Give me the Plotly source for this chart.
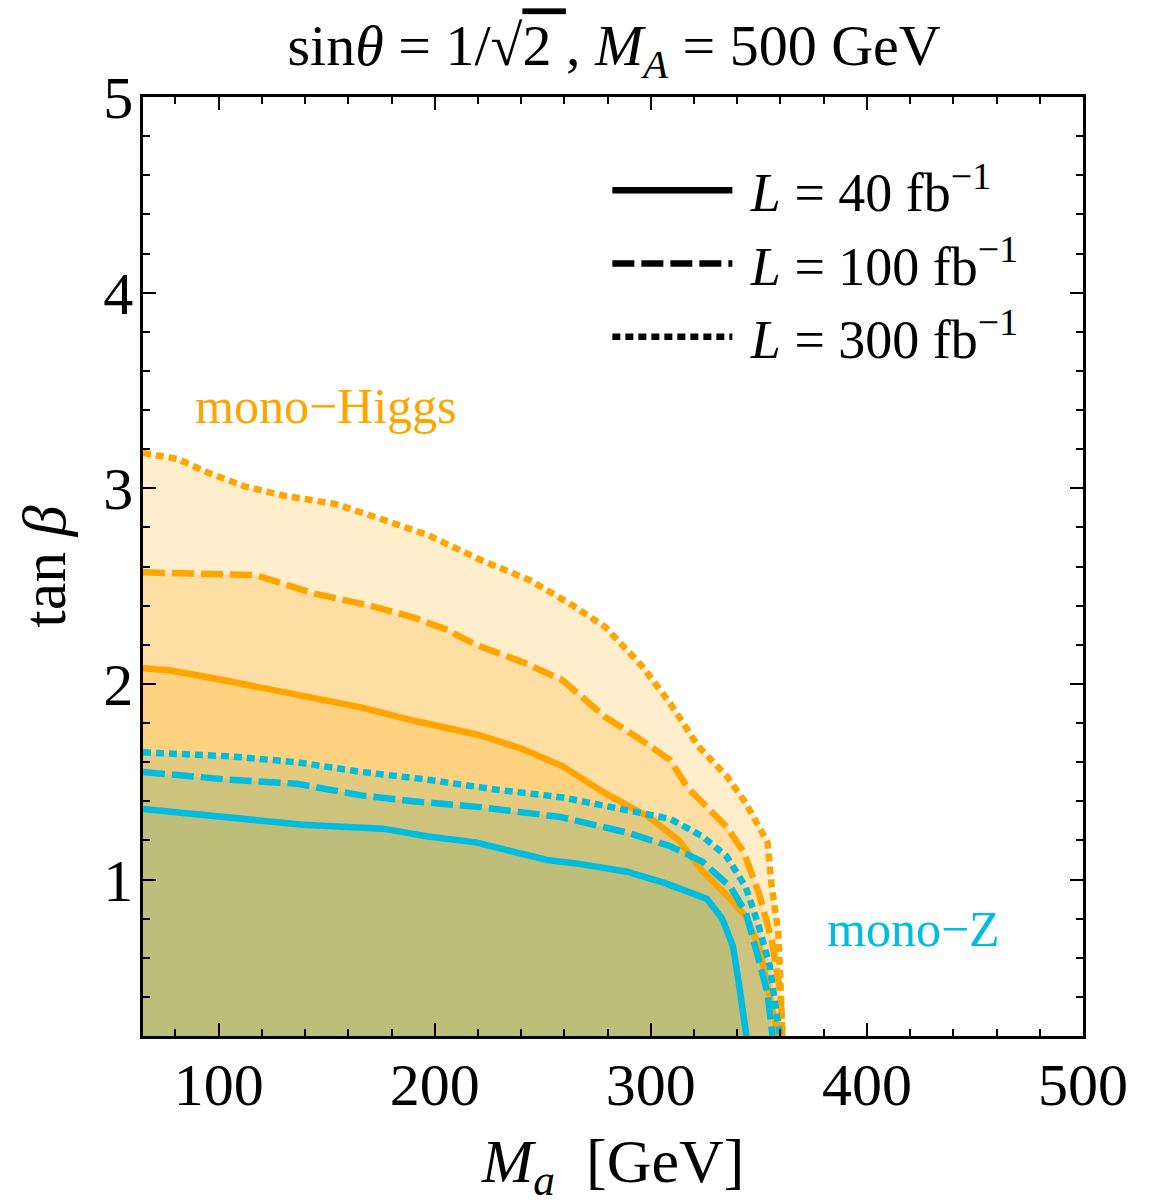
import plotly.graph_objects as go

# ---- data ----
mh_300_x = [65, 81, 95, 112, 131, 154, 176, 197, 220, 244, 264, 279, 296, 309, 322, 335, 344, 354, 356, 359, 360, 361]
mh_300_y = [3.18, 3.15, 3.08, 3.01, 2.96, 2.92, 2.84, 2.76, 2.64, 2.53, 2.40, 2.29, 2.09, 1.90, 1.68, 1.53, 1.39, 1.19, 0.96, 0.73, 0.47, 0.18]

mh_100_x = [65, 117, 145, 170, 190, 205, 219, 241, 259, 279, 296, 309, 317, 326, 335, 343, 350, 356, 360, 361]
mh_100_y = [2.57, 2.556, 2.46, 2.40, 2.34, 2.28, 2.20, 2.11, 2.02, 1.83, 1.71, 1.61, 1.47, 1.37, 1.27, 1.14, 0.93, 0.69, 0.42, 0.18]

mh_40_x = [65, 77, 97, 120, 143, 166, 191, 205, 220, 240, 259, 279, 299, 313, 324, 336, 344, 350, 355, 358, 359]
mh_40_y = [2.08, 2.07, 2.03, 1.98, 1.93, 1.88, 1.81, 1.78, 1.74, 1.67, 1.58, 1.44, 1.32, 1.20, 1.04, 0.91, 0.81, 0.66, 0.42, 0.25, 0.18]

mz_300_x = [65, 105, 136, 166, 197, 228, 259, 288, 309, 324, 335, 344, 350, 355, 358, 360]
mz_300_y = [1.65, 1.63, 1.60, 1.55, 1.51, 1.46, 1.42, 1.36, 1.31, 1.22, 1.12, 0.96, 0.76, 0.56, 0.35, 0.18]

mz_100_x = [65, 105, 136, 166, 190, 221, 258, 289, 309, 324, 337, 344, 349, 354, 356.5]
mz_100_y = [1.55, 1.51, 1.49, 1.43, 1.40, 1.37, 1.32, 1.24, 1.17, 1.09, 0.96, 0.83, 0.63, 0.42, 0.18]

mz_40_x = [65, 105, 139, 176, 197, 219, 252, 267, 289, 307, 326, 333, 338, 341, 344.5]
mz_40_y = [1.36, 1.32, 1.28, 1.26, 1.22, 1.19, 1.10, 1.08, 1.04, 0.98, 0.90, 0.80, 0.66, 0.45, 0.18]

lumi_labels = ["\u00a0<i>L</i> = 40 fb<sup>−1</sup>", "\u00a0<i>L</i> = 100 fb<sup>−1</sup>", "\u00a0<i>L</i> = 300 fb<sup>−1</sup>"]
x_ticks = [100, 200, 300, 400, 500]
y_ticks = [1, 2, 3, 4, 5]

# ---- styles ----
SERIF = "Liberation Serif"
ORANGE = "rgb(255,165,0)"
CYAN = "rgb(0,188,222)"
ORANGE_FILL = "rgba(255,165,0,0.2)"
CYAN_FILL = "rgba(120,172,113,0.2)"
DOT = "8px,5px"
DASH = "22px,7px"
LW = 6.5

fig = go.Figure()

orange_sets = [(mh_300_x, mh_300_y, DOT), (mh_100_x, mh_100_y, DASH), (mh_40_x, mh_40_y, "solid")]
cyan_sets = [(mz_300_x, mz_300_y, DOT), (mz_100_x, mz_100_y, DASH), (mz_40_x, mz_40_y, "solid")]

# fills
for xs, ys, _ in orange_sets:
    fig.add_trace(go.Scatter(x=xs, y=ys, mode="lines", line=dict(width=0, color=ORANGE),
                             fill="tozeroy", fillcolor=ORANGE_FILL, showlegend=False, hoverinfo="skip"))
for xs, ys, _ in cyan_sets:
    fig.add_trace(go.Scatter(x=xs, y=ys, mode="lines", line=dict(width=0, color=CYAN),
                             fill="tozeroy", fillcolor=CYAN_FILL, showlegend=False, hoverinfo="skip"))
# lines
for xs, ys, d in orange_sets:
    fig.add_trace(go.Scatter(x=xs, y=ys, mode="lines", line=dict(width=LW, color=ORANGE, dash=d),
                             showlegend=False))
for xs, ys, d in cyan_sets:
    fig.add_trace(go.Scatter(x=xs, y=ys, mode="lines", line=dict(width=LW, color=CYAN, dash=d),
                             showlegend=False))

# legend entries (black)
for lab, d in zip(lumi_labels, ["solid", DASH, DOT]):
    fig.add_trace(go.Scatter(x=[None], y=[None], mode="lines", name=lab,
                             line=dict(width=LW, color="black", dash=d)))

axis_common = dict(
    showline=True, linecolor="black", linewidth=2.5, mirror="ticks",
    ticks="inside", ticklen=13, tickwidth=2, tickcolor="black",
    showgrid=False, zeroline=False,
    tickfont=dict(family=SERIF, size=60, color="black"),
)

# page has an 8px body margin: figure is shrunk by 8px so the plot sits where the reference has it
fig.update_layout(
    width=1148, height=1196,
    margin=dict(l=135, r=73, t=89, b=168),
    plot_bgcolor="white", paper_bgcolor="white",
    title=dict(text="sin<i>θ</i> = 1/√<span style='text-decoration:overline'>2 </span>, <i>M<sub>A</sub></i> = 500 GeV",
               x=0.528, xanchor="center", y=0.969, yanchor="middle",
               font=dict(family=SERIF, size=58, color="black")),
    xaxis=dict(range=[65, 500], tickvals=x_ticks, ticktext=[str(v) for v in x_ticks],
               minor=dict(ticks="inside", dtick=20, tick0=0, ticklen=7, tickwidth=2, tickcolor="black"),
               title=dict(text="<i>M<sub>a</sub></i>  [GeV]", font=dict(family=SERIF, size=62, color="black"), standoff=22),
               ticklabelstandoff=-6,
               **axis_common),
    yaxis=dict(range=[0.2, 5], tickvals=y_ticks, ticktext=[str(v) for v in y_ticks],
               minor=dict(ticks="inside", dtick=0.2, tick0=0, ticklen=7, tickwidth=2, tickcolor="black"),
               title=dict(text="tan <i>β</i>", font=dict(family=SERIF, size=62, color="black"), standoff=18),
               ticklabelstandoff=-5,
               **axis_common),
    legend=dict(x=0.494, y=0.945, xanchor="left", yanchor="top", bgcolor="rgba(0,0,0,0)",
                font=dict(family=SERIF, size=54, color="black"), itemwidth=120,
                tracegroupgap=0),
    annotations=[
        dict(text="mono−Higgs", x=88, y=3.42, xref="x", yref="y", xanchor="left", yanchor="middle",
             showarrow=False, font=dict(family=SERIF, size=50, color=ORANGE)),
        dict(text="mono−Z", x=380.5, y=0.745, xref="x", yref="y", xanchor="left", yanchor="middle",
             showarrow=False, font=dict(family=SERIF, size=50, color=CYAN)),
    ],
)

fig.write_html("out.html")
